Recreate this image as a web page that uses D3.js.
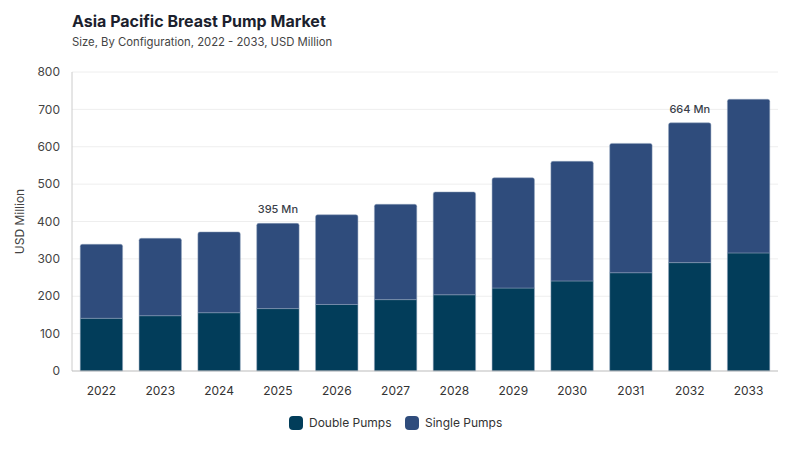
<!DOCTYPE html>
<head>
<meta charset="utf-8">
<title>Asia Pacific Breast Pump Market</title>
<style>
  body { margin: 0; background: #fff; }
  svg { font-family: Inter, "Noto Sans", sans-serif; }
</style>
</head>
<body>
<script src="https://d3js.org/d3.v7.min.js"></script>
<script>
// data
let years = ["2022","2023","2024","2025","2026","2027","2028","2029","2030","2031","2032","2033"];
let doublePumps = [141, 148, 156, 167, 178, 191, 204, 222, 241, 263, 290, 316];
let singlePumps = [198, 207, 216, 228, 240, 255, 275, 295, 320, 346, 374, 411];
let totals = [339, 355, 372, 395, 418, 446, 479, 517, 561, 609, 664, 727];
let yTicks = [0, 100, 200, 300, 400, 500, 600, 700, 800];
let labelled = ["2025", "2032"];
let seriesNames = ["Double Pumps", "Single Pumps"];
let colors = ["#023d5a", "#2f4c7c"];

let width = 800, height = 450;
let margin = {top: 72, right: 22, bottom: 79, left: 72};

let svg = d3.select("body").append("svg")
    .attr("width", width)
    .attr("height", height);

// title
svg.append("text")
    .attr("x", 72).attr("y", 27)
    .text("Asia Pacific Breast Pump Market")
    .style("font-size", "16px")
    .style("font-weight", "700")
    .attr("fill", "#1c1f2e");
svg.append("text")
    .attr("x", 72).attr("y", 46)
    .text("Size, By Configuration, 2022 - 2033, USD Million")
    .style("font-size", "11.3px")
    .attr("fill", "#444");

let x = d3.scaleBand()
    .domain(years)
    .range([margin.left, width - margin.right])
    .paddingInner(0.28)
    .paddingOuter(0.14);

let y = d3.scaleLinear()
    .domain([0, 800])
    .range([height - margin.bottom, margin.top]);

// gridlines
svg.selectAll(".grid")
    .data(yTicks.slice(1))
    .join("line")
    .attr("class", "grid")
    .attr("x1", margin.left)
    .attr("x2", width - margin.right)
    .attr("y1", d => y(d))
    .attr("y2", d => y(d))
    .attr("stroke", "#eeeeee");

// y tick labels
svg.selectAll(".ytick")
    .data(yTicks)
    .join("text")
    .attr("class", "ytick")
    .attr("x", margin.left - 12)
    .attr("y", d => y(d))
    .attr("dy", "0.35em")
    .attr("text-anchor", "end")
    .text(d => d)
    .style("font-size", "12px")
    .attr("fill", "#444");

svg.append("text")
    .attr("transform", `translate(24, ${y(400)}) rotate(-90)`)
    .attr("text-anchor", "middle")
    .text("USD Million")
    .style("font-size", "12px")
    .attr("fill", "#444");

// stacked bars
let rows = years.map((yr, i) => ({year: yr, d: doublePumps[i], s: singlePumps[i]}));
let stacked = d3.stack().keys(["d", "s"])(rows);

function barPath(x0, y0, w, y1, r) {
    // rounded top corners only
    return `M${x0},${y0}V${y1 + r}Q${x0},${y1} ${x0 + r},${y1}H${x0 + w - r}Q${x0 + w},${y1} ${x0 + w},${y1 + r}V${y0}Z`;
}

stacked.forEach((layer, li) => {
    svg.append("g")
        .selectAll("path")
        .data(layer)
        .join("path")
        .attr("d", d => li === 1
            ? barPath(x(d.data.year), y(d[0]), x.bandwidth(), y(d[1]), 2)
            : `M${x(d.data.year)},${y(d[0])}V${y(d[1])}H${x(d.data.year) + x.bandwidth()}V${y(d[0])}Z`)
        .attr("fill", colors[li])
        .attr("stroke", "#8fa0bb")
        .attr("stroke-width", 0.5);
});

// axes lines
svg.append("line")
    .attr("x1", margin.left).attr("x2", margin.left)
    .attr("y1", margin.top).attr("y2", y(0))
    .attr("stroke", "#cccccc");
svg.append("line")
    .attr("x1", margin.left).attr("x2", width - margin.right)
    .attr("y1", y(0)).attr("y2", y(0))
    .attr("stroke", "#bbbbbb");

// x labels
svg.selectAll(".xtick")
    .data(years)
    .join("text")
    .attr("class", "xtick")
    .attr("x", d => x(d) + x.bandwidth() / 2)
    .attr("y", y(0) + 24)
    .attr("text-anchor", "middle")
    .text(d => d)
    .style("font-size", "12px")
    .attr("fill", "#333");

// value annotations
svg.selectAll(".ann")
    .data(years.map((yr, i) => ({year: yr, total: totals[i]})).filter(d => labelled.includes(d.year)))
    .join("text")
    .attr("class", "ann")
    .attr("x", d => x(d.year) + x.bandwidth() / 2)
    .attr("y", d => y(d.total) - 10)
    .attr("text-anchor", "middle")
    .text(d => `${d.total} Mn`)
    .style("font-size", "11px")
    .style("font-weight", "500")
    .attr("fill", "#3a3f4a");

// legend
let legendX = [289, 405];
seriesNames.forEach((name, i) => {
    let g = svg.append("g").attr("transform", `translate(${legendX[i]}, 416)`);
    g.append("rect")
        .attr("width", 14).attr("height", 14)
        .attr("rx", 4)
        .attr("fill", colors[i]);
    g.append("text")
        .attr("x", 20).attr("y", 7)
        .attr("dy", "0.35em")
        .text(name)
        .style("font-size", "12px")
        .attr("fill", "#333");
});
</script>
</body>
